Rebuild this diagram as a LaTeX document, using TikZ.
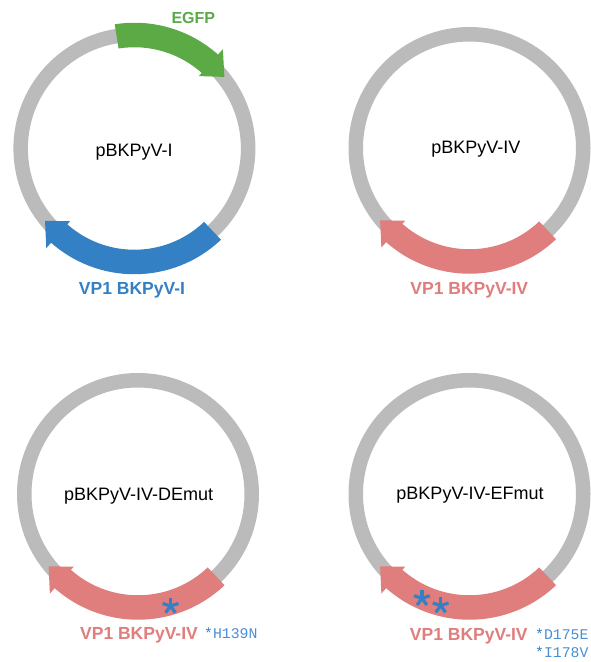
\documentclass[tikz,border=0pt]{standalone}
\usepackage{fontspec}
\setmainfont{Liberation Sans}
\newfontfamily\monofont{Liberation Mono}

\definecolor{ringgray}{HTML}{BBBBBB}
\definecolor{egfpgreen}{HTML}{5BAA46}
\definecolor{vpblue}{HTML}{3480C4}
\definecolor{vppink}{HTML}{E07D7D}
\definecolor{mutdark}{HTML}{3480C4}
\definecolor{mutlight}{HTML}{4A8FD6}

% feature band: colour, start angle, band end, arrow back, arrow tip
\newcommand\featband[5]{%
  \fill[#1] (#2:125.75) arc[start angle=#2, end angle=#3, radius=125.75]
        -- (#3:101.25) arc[start angle=#3, end angle=#2, radius=101.25] -- cycle;
  \fill[#1] (#4:133) -- (#5:115) -- (#4:97) -- cycle;
}

\tikzset{
  ring/.style={draw=ringgray, line width=14.5pt},
  plasmidname/.style={font=\fontsize{18}{18}\selectfont, anchor=base, text=black, inner sep=0pt},
  featlabel/.style={font=\bfseries\fontsize{17.5}{17.5}\selectfont, anchor=base, inner sep=0pt},
  mutlabel/.style={font=\monofont\fontsize{14.8}{14.8}\selectfont, anchor=base west,
                   text=mutlight, inner sep=0pt},
  mutstar/.pic={\foreach \a in {90,162,234,306,18}
                  \draw[mutdark, line width=3.2pt] (0,0) -- (\a:8.3);},
}

\begin{document}
\begin{tikzpicture}[x=1pt, y=1pt]
  \fill[white] (0,0) rectangle (590,662);
  \useasboundingbox (0,0) rectangle (590,662);

  \coordinate (cI)    at (134.4,513.5);
  \coordinate (cIV)   at (469.5,514);
  \coordinate (cDE)   at (138,168);
  \coordinate (cEF)   at (469.5,168);

  % pBKPyV-I
  \begin{scope}[shift={(cI)}]
    \draw[ring] (0,0) circle[radius=113.75];
    \featband{egfpgreen}{99}{47}{48.3}{38.5}
    \featband{vpblue}{-46.5}{-133}{-131.5}{-141}
  \end{scope}
  \node[plasmidname] (nI) at (134.2,505.3) {pBKPyV-I};
  \node[featlabel, text=egfpgreen, font=\bfseries\fontsize{16}{16}\selectfont] (lEGFP) at (193.3,638.8) {EGFP};
  \node[featlabel, text=vpblue] (lI) at (132,367.5) {VP1 BKPyV-I};

  % pBKPyV-IV
  \begin{scope}[shift={(cIV)}]
    \draw[ring] (0,0) circle[radius=113.75];
    \featband{vppink}{-46.5}{-133}{-131.5}{-141}
  \end{scope}
  \node[plasmidname] (nIV) at (475.8,508) {pBKPyV-IV};
  \node[featlabel, text=vppink] (lIV) at (469.3,367.7) {VP1 BKPyV-IV};

  % pBKPyV-IV-DEmut
  \begin{scope}[shift={(cDE)}]
    \draw[ring] (0,0) circle[radius=113.75];
    \featband{vppink}{-46.5}{-133}{-131.5}{-141}
  \end{scope}
  \pic at (170.5,56) {mutstar};
  \node[plasmidname] (nDE) at (138.7,161) {pBKPyV-IV-DEmut};
  \node[featlabel, text=vppink] (lDE) at (139,22.2) {VP1 BKPyV-IV};
  \node[mutlabel] (mDE) at (204,23.3) {{\color{mutdark}*}H139N};

  % pBKPyV-IV-EFmut
  \begin{scope}[shift={(cEF)}]
    \draw[ring] (0,0) circle[radius=113.75];
    \featband{vppink}{-46.5}{-133}{-131.5}{-141}
  \end{scope}
  \pic at (422,63.7) {mutstar};
  \pic at (440.7,56.4) {mutstar};
  \node[plasmidname] (nEF) at (470,162) {pBKPyV-IV-EFmut};
  \node[featlabel, text=vppink] (lEF) at (468.8,21.8) {VP1 BKPyV-IV};
  \node[mutlabel] (mEF1) at (535,22.7) {{\color{mutdark}*}D175E};
  \node[mutlabel] (mEF2) at (535,5) {{\color{mutdark}*}I178V};
\end{tikzpicture}
\end{document}
